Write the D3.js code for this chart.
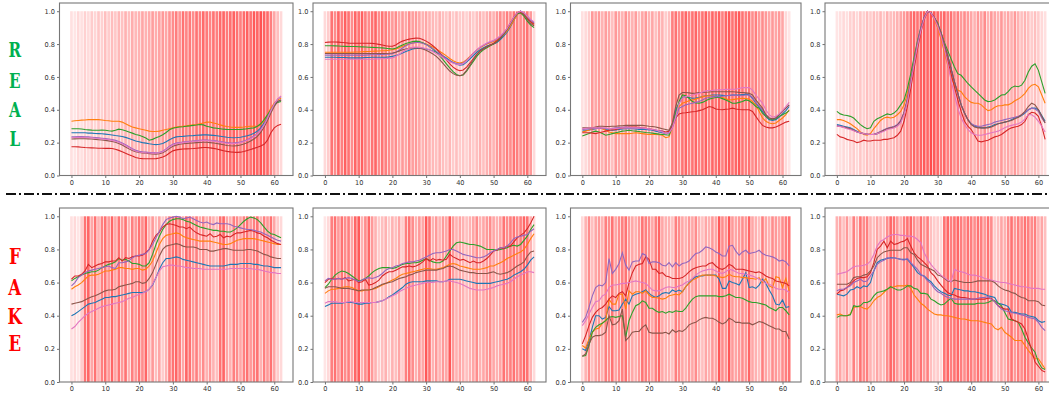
<!DOCTYPE html>
<html>
<head>
<meta charset="utf-8">
<script src="https://cdn.jsdelivr.net/npm/d3@7"></script>
<style>
  body { margin: 0; background: #fff; }
  svg { display: block; }
</style>
</head>
<body>
<svg id="chart" width="1049" height="393"></svg>
<script>
// series order in every panel: blue, orange, green, red, purple, brown, pink
const seriesColors = ["#1f77b4", "#ff7f0e", "#2ca02c", "#d62728", "#9467bd", "#8c564b", "#e377c2"];
const xTicks = [0, 10, 20, 30, 40, 50, 60];
const yTicks = [0, 0.2, 0.4, 0.6, 0.8, 1.0];
const rowLabels = ["REAL", "FAKE"];

// attention weight per time step (bar opacity)
const real1Weights = [.12,.1,.15,.12,.18,.14,.2,.16,.22,.18, .25,.2,.26,.22,.28,.24,.3,.25,.32,.28, .3,.35,.3,.33,.38,.32,.36,.4,.35,.42, .45,.5,.42,.55,.48,.52,.45,.55,.5,.58, .52,.48,.55,.5,.58,.6,.52,.56,.62,.55, .5,.58,.62,.55,.65,.6,.68,.62,.58,.5, .35,.25,.15];
const real2Weights = [.15,.2,.55,.45,.6,.5,.62,.55,.45,.6, .55,.62,.5,.45,.55,.6,.45,.55,.5,.45, .4,.45,.35,.4,.35,.45,.38,.4,.35,.3, .35,.3,.28,.25,.3,.25,.22,.28,.2,.25, .2,.22,.18,.25,.2,.25,.3,.25,.3,.35, .3,.4,.45,.4,.5,.45,.55,.5,.45,.5, .55,.4,.15];
const real3Weights = [.12,.15,.2,.4,.35,.4,.3,.38,.35,.25, .4,.35,.3,.42,.35,.3,.38,.25,.35,.4, .3,.35,.25,.35,.3,.2,.25,.5,.55,.45, .55,.6,.5,.55,.6,.5,.55,.62,.5,.6, .55,.62,.5,.6,.65,.55,.6,.65,.55,.5, .55,.45,.5,.4,.45,.4,.35,.4,.35,.4, .35,.15,.1];
const real4Weights = [.1,.12,.15,.12,.18,.2,.15,.22,.18,.25, .2,.25,.22,.28,.2,.3,.25,.28,.3,.35, .4,.45,.55,.6,.55,.62,.65,.6,.7,.65, .6,.55,.6,.5,.55,.45,.5,.4,.45,.4, .35,.3,.4,.35,.45,.3,.4,.35,.3,.4, .3,.35,.3,.4,.3,.25,.3,.25,.2,.25, .2,.15,.12];
const fake1Weights = [.12,.15,.1,.2,.55,.6,.35,.55,.3,.5, .55,.4,.6,.35,.55,.4,.55,.3,.5,.4, .55,.45,.6,.3,.4,.25,.35,.2,.3,.5, .55,.6,.5,.35,.6,.55,.4,.5,.35,.45, .3,.4,.3,.25,.55,.6,.35,.3,.5,.45, .35,.5,.55,.4,.5,.55,.3,.5,.4,.55, .35,.2,.15];
const fake2Weights = [.1,.15,.5,.55,.4,.55,.45,.5,.35,.6, .65,.3,.45,.6,.4,.3,.2,.25,.3,.2, .3,.25,.35,.2,.5,.55,.45,.3,.4,.35, .65,.55,.3,.4,.3,.4,.35,.65,.4,.3, .35,.3,.25,.3,.35,.45,.3,.35,.4,.45, .35,.3,.35,.55,.45,.5,.55,.45,.5,.6, .55,.3,.15];
const fake3Weights = [.15,.3,.45,.25,.35,.4,.3,.5,.45,.55, .35,.45,.5,.55,.4,.35,.3,.4,.55,.5, .45,.35,.5,.6,.35,.3,.3,.25,.5,.45, .35,.3,.4,.35,.45,.3,.25,.35,.3,.4, .35,.65,.45,.4,.65,.4,.35,.4,.45,.4, .6,.35,.3,.25,.5,.35,.3,.45,.4,.35, .45,.5,.55];
const fake4Weights = [.3,.35,.25,.4,.2,.5,.3,.55,.45,.5, .3,.25,.35,.3,.25,.45,.6,.55,.4,.3, .5,.55,.6,.45,.35,.55,.4,.5,.25,.2, .2,.15,.55,.6,.5,.55,.6,.5,.45,.55, .5,.45,.55,.5,.4,.55,.45,.2,.25,.35, .3,.45,.55,.4,.5,.45,.55,.5,.45,.5, .3,.35,.25];

const real1Series = [
  [.26,.26,.26,.26,.26,.258,.258,.256,.255,.254, .252,.25,.247,.243,.24,.237,.232,.225,.218,.21, .205,.2,.197,.193,.19,.188,.19,.195,.205,.218, .228,.235,.237,.238,.24,.242,.243,.245,.246,.247, .247,.246,.244,.242,.239,.236,.233,.231,.23,.231, .233,.237,.242,.248,.257,.27,.29,.32,.36,.4, .43,.45,.46],
  [.33,.333,.335,.337,.338,.34,.34,.34,.34,.338, .335,.333,.33,.33,.33,.325,.315,.305,.295,.29, .285,.28,.275,.27,.268,.268,.27,.275,.28,.285, .29,.295,.298,.3,.302,.305,.308,.31,.315,.32, .325,.325,.32,.315,.308,.302,.298,.295,.293,.293, .293,.295,.298,.3,.3,.3,.31,.33,.37,.41, .44,.46,.47],
  [.285,.285,.285,.283,.28,.278,.276,.275,.275,.276, .275,.272,.27,.275,.282,.278,.272,.265,.258,.25, .245,.238,.228,.215,.22,.23,.238,.248,.262,.278, .288,.292,.295,.297,.3,.302,.305,.307,.31,.308, .3,.295,.29,.288,.285,.282,.28,.28,.28,.28, .28,.282,.285,.288,.29,.3,.315,.34,.37,.4, .43,.445,.45],
  [.175,.175,.174,.172,.17,.169,.168,.167,.166,.166, .165,.165,.164,.16,.153,.145,.136,.127,.118,.11, .105,.103,.102,.102,.102,.103,.106,.112,.122,.137, .15,.156,.159,.161,.162,.163,.164,.166,.168,.17, .17,.168,.165,.161,.156,.151,.147,.144,.142,.141, .142,.146,.152,.158,.165,.172,.18,.19,.215,.26, .29,.305,.312],
  [.235,.236,.237,.237,.236,.235,.233,.231,.229,.227, .225,.222,.219,.214,.207,.198,.187,.175,.163,.153, .147,.144,.142,.14,.139,.138,.14,.148,.162,.178, .19,.197,.201,.204,.206,.208,.21,.212,.214,.216, .216,.215,.213,.21,.207,.203,.2,.198,.198,.2, .204,.21,.218,.228,.24,.255,.28,.31,.35,.395, .435,.465,.48],
  [.222,.223,.224,.224,.224,.223,.222,.22,.218,.216, .214,.211,.207,.202,.195,.185,.174,.162,.152,.145, .14,.137,.135,.133,.131,.13,.132,.138,.15,.165, .178,.185,.19,.193,.195,.197,.198,.2,.201,.202, .202,.2,.198,.195,.191,.187,.183,.181,.18,.182, .186,.192,.2,.21,.222,.238,.262,.295,.335,.38, .42,.45,.46],
  [.23,.231,.232,.232,.231,.23,.229,.227,.225,.223, .221,.218,.214,.209,.202,.193,.182,.17,.158,.149, .143,.14,.138,.137,.136,.136,.138,.145,.158,.174, .186,.193,.197,.2,.203,.205,.207,.209,.211,.212, .212,.211,.209,.206,.203,.199,.196,.194,.194,.196, .2,.206,.214,.224,.236,.252,.276,.308,.35,.395, .435,.465,.485]
];

const real2Series = [
  [.72,.72,.72,.72,.718,.718,.718,.716,.716,.716, .716,.716,.718,.718,.72,.72,.72,.72,.72,.722, .725,.73,.737,.745,.755,.763,.77,.774,.775,.774, .77,.765,.758,.75,.74,.728,.715,.7,.688,.678, .672,.675,.69,.71,.73,.75,.765,.778,.788,.795, .8,.81,.828,.848,.872,.905,.945,.98,1.0,.985, .96,.94,.925],
  [.75,.75,.75,.75,.75,.75,.75,.75,.75,.752, .752,.753,.754,.755,.756,.757,.758,.759,.76,.762, .765,.77,.778,.787,.795,.802,.807,.81,.81,.807, .8,.792,.782,.77,.757,.743,.728,.712,.698,.689, .685,.69,.705,.725,.745,.762,.778,.79,.8,.808, .815,.825,.84,.858,.88,.91,.945,.98,.998,.985, .96,.94,.92],
  [.79,.79,.79,.789,.788,.787,.786,.785,.785,.785, .784,.783,.782,.781,.78,.779,.778,.777,.775,.772, .77,.775,.785,.795,.803,.81,.815,.818,.815,.808, .798,.785,.77,.752,.73,.705,.68,.655,.632,.615, .607,.612,.635,.665,.695,.725,.748,.765,.778,.79, .8,.815,.835,.86,.89,.925,.96,.985,.99,.97, .94,.915,.9],
  [.81,.812,.813,.813,.812,.81,.808,.806,.805,.805, .805,.805,.805,.805,.804,.802,.798,.794,.79,.787, .787,.795,.808,.818,.825,.83,.834,.836,.835,.828, .818,.805,.79,.772,.75,.727,.703,.68,.66,.645, .638,.642,.66,.685,.712,.738,.758,.772,.783,.795, .805,.82,.84,.865,.895,.93,.965,.99,.995,.98, .955,.935,.92],
  [.733,.733,.733,.733,.733,.733,.733,.733,.733,.733, .733,.733,.733,.734,.735,.735,.736,.737,.738,.739, .742,.75,.762,.776,.79,.8,.806,.81,.81,.805, .797,.785,.772,.757,.741,.725,.71,.697,.687,.682, .68,.685,.7,.72,.742,.765,.78,.792,.803,.812, .82,.832,.848,.868,.893,.925,.96,.99,1.0,.99, .97,.945,.93],
  [.743,.743,.743,.743,.743,.743,.743,.743,.743,.743, .743,.743,.743,.743,.743,.743,.743,.743,.743,.744, .746,.75,.757,.765,.77,.774,.776,.777,.775,.77, .762,.752,.74,.725,.705,.682,.658,.636,.62,.61, .607,.615,.64,.672,.705,.735,.758,.772,.784,.793, .802,.815,.835,.86,.89,.925,.96,.99,1.0,.98, .95,.925,.91],
  [.708,.708,.708,.708,.708,.708,.708,.708,.708,.708, .708,.708,.708,.708,.708,.709,.71,.711,.712,.713, .716,.725,.738,.752,.765,.775,.78,.782,.78,.777, .772,.765,.755,.743,.73,.717,.705,.693,.683,.677, .675,.68,.698,.72,.745,.765,.782,.795,.806,.815, .822,.834,.85,.87,.895,.93,.965,.99,1.0,.99, .97,.95,.935]
];

const real3Series = [
  [.27,.273,.277,.28,.285,.29,.286,.28,.277,.275, .277,.28,.283,.285,.285,.285,.283,.28,.28,.28, .278,.275,.27,.265,.26,.255,.26,.31,.4,.44, .475,.48,.475,.47,.472,.475,.48,.485,.487,.49, .49,.49,.488,.485,.487,.49,.49,.49,.492,.495, .49,.47,.44,.415,.39,.36,.34,.335,.34,.355, .375,.395,.42],
  [.265,.27,.275,.283,.29,.29,.285,.275,.265,.26, .255,.255,.255,.255,.255,.257,.26,.258,.255,.252, .25,.25,.25,.248,.245,.23,.235,.3,.37,.42, .44,.448,.455,.46,.465,.472,.48,.483,.485,.483, .48,.478,.475,.468,.46,.462,.465,.468,.47,.468, .465,.45,.43,.39,.35,.33,.32,.315,.32,.335, .35,.37,.4],
  [.24,.248,.255,.265,.27,.265,.255,.245,.25,.255, .26,.265,.27,.272,.275,.272,.27,.268,.265,.262, .26,.258,.255,.252,.25,.248,.245,.3,.38,.45, .49,.485,.47,.45,.442,.44,.445,.455,.465,.47, .475,.475,.468,.46,.45,.44,.44,.445,.45,.46, .455,.44,.42,.41,.38,.36,.345,.34,.345,.36, .37,.38,.395],
  [.26,.26,.26,.258,.255,.26,.265,.27,.275,.278, .28,.285,.29,.293,.295,.295,.295,.293,.29,.288, .285,.28,.275,.272,.27,.265,.27,.3,.35,.375, .38,.382,.385,.388,.39,.395,.4,.41,.42,.415, .405,.402,.4,.403,.405,.41,.405,.402,.4,.4, .4,.39,.36,.33,.305,.295,.29,.29,.295,.305, .315,.325,.33],
  [.28,.282,.284,.285,.287,.29,.288,.286,.285,.287, .29,.292,.294,.295,.293,.29,.29,.288,.287,.285, .283,.28,.277,.274,.27,.255,.26,.29,.35,.41, .42,.43,.435,.44,.445,.45,.46,.47,.475,.48, .48,.48,.482,.485,.488,.49,.488,.485,.487,.49, .49,.475,.445,.42,.4,.37,.35,.345,.35,.37, .39,.41,.43],
  [.29,.29,.29,.29,.295,.3,.3,.298,.298,.3, .3,.302,.303,.305,.305,.305,.305,.305,.305,.303, .3,.298,.295,.29,.285,.28,.275,.32,.42,.49, .505,.505,.503,.5,.502,.505,.505,.507,.508,.51, .51,.51,.51,.51,.51,.51,.508,.506,.505,.503, .5,.49,.46,.435,.41,.37,.35,.345,.35,.37, .39,.41,.43],
  [.285,.287,.289,.29,.29,.29,.29,.289,.287,.285, .287,.288,.29,.29,.29,.29,.29,.29,.29,.287, .284,.28,.277,.27,.265,.255,.26,.29,.36,.44, .47,.48,.485,.49,.495,.5,.508,.515,.517,.518, .52,.521,.522,.524,.525,.525,.525,.53,.535,.535, .535,.52,.49,.465,.44,.4,.37,.355,.36,.375, .395,.42,.445]
];

const real4Series = [
  [.31,.305,.3,.295,.29,.28,.27,.26,.255,.25, .25,.25,.255,.265,.275,.285,.29,.295,.305,.33, .38,.46,.57,.69,.8,.89,.96,1.0,.99,.96, .92,.87,.8,.73,.65,.57,.5,.43,.38,.34, .315,.3,.295,.29,.29,.295,.3,.31,.315,.32, .325,.33,.34,.35,.355,.365,.38,.4,.41,.41, .4,.365,.33],
  [.34,.34,.335,.325,.315,.3,.285,.265,.25,.245, .255,.285,.31,.335,.35,.355,.35,.355,.37,.39, .43,.5,.6,.71,.81,.89,.96,1.0,.99,.95, .9,.83,.75,.67,.6,.55,.52,.51,.48,.46, .445,.44,.44,.43,.41,.395,.4,.415,.425,.425, .43,.43,.44,.455,.465,.48,.5,.53,.55,.555, .54,.49,.44],
  [.39,.375,.368,.365,.36,.35,.33,.31,.295,.285, .29,.33,.345,.355,.365,.375,.37,.38,.4,.43, .46,.53,.62,.72,.82,.9,.96,1.0,.99,.96, .93,.87,.81,.76,.71,.66,.62,.61,.585,.56, .54,.52,.5,.48,.46,.45,.452,.46,.475,.49, .492,.51,.535,.545,.54,.55,.58,.63,.665,.68, .64,.57,.5],
  [.25,.235,.23,.22,.215,.21,.2,.205,.215,.21, .21,.215,.215,.215,.22,.22,.225,.23,.245,.27, .33,.42,.53,.65,.77,.87,.95,1.0,.99,.96, .92,.86,.78,.7,.62,.54,.46,.39,.33,.3, .28,.245,.21,.205,.21,.215,.225,.235,.24,.25, .265,.28,.29,.295,.3,.31,.33,.37,.385,.38, .36,.3,.22],
  [.305,.3,.295,.29,.285,.275,.265,.258,.254,.252, .25,.252,.258,.268,.278,.288,.293,.298,.31,.335, .385,.47,.58,.7,.81,.9,.965,1.0,.99,.96, .92,.87,.8,.73,.65,.57,.5,.43,.38,.34, .315,.305,.3,.3,.305,.31,.315,.325,.33,.335, .34,.345,.35,.355,.36,.37,.385,.4,.41,.405, .39,.35,.32],
  [.3,.298,.295,.29,.285,.275,.265,.26,.255,.252, .25,.25,.255,.265,.275,.285,.29,.295,.305,.33, .38,.46,.57,.69,.8,.89,.96,1.0,.99,.96, .92,.87,.8,.73,.65,.57,.5,.43,.38,.34, .31,.295,.29,.29,.29,.29,.295,.305,.315,.32, .325,.33,.335,.345,.355,.37,.39,.42,.44,.43, .4,.36,.32],
  [.3,.298,.293,.285,.28,.272,.265,.26,.255,.252, .25,.25,.255,.262,.27,.28,.285,.29,.3,.32, .37,.45,.56,.68,.79,.88,.955,1.0,.99,.955, .91,.85,.77,.68,.58,.49,.41,.35,.31,.28, .26,.25,.245,.245,.25,.255,.26,.265,.27,.28, .29,.3,.305,.31,.315,.325,.345,.37,.37,.355, .33,.3,.265]
];

const fake1Series = [
  [.4,.41,.425,.44,.455,.47,.475,.48,.49,.5, .51,.51,.515,.515,.52,.525,.53,.535,.54,.54, .54,.54,.545,.56,.585,.63,.68,.72,.745,.745, .75,.755,.75,.74,.735,.73,.725,.72,.715,.71, .705,.7,.7,.7,.7,.7,.705,.71,.71,.71, .715,.715,.715,.715,.71,.71,.705,.7,.7,.695, .69,.69,.69],
  [.56,.575,.585,.6,.62,.64,.645,.645,.65,.66, .67,.67,.675,.68,.69,.69,.685,.685,.68,.685, .685,.675,.68,.7,.73,.78,.83,.865,.885,.89, .895,.9,.895,.88,.87,.865,.86,.855,.85,.85, .85,.85,.845,.84,.835,.83,.83,.835,.845,.855, .86,.865,.865,.865,.865,.86,.855,.85,.845,.84, .835,.83,.83],
  [.61,.625,.635,.645,.655,.66,.665,.665,.675,.69, .7,.71,.715,.725,.745,.735,.74,.73,.715,.715, .71,.7,.7,.72,.77,.83,.88,.92,.95,.97, .98,.985,.985,.98,.97,.965,.955,.945,.935,.93, .925,.92,.915,.915,.91,.91,.905,.905,.915,.93, .95,.97,.985,.995,.99,.98,.96,.935,.91,.895, .89,.88,.87],
  [.62,.64,.64,.65,.67,.71,.69,.7,.71,.715, .725,.725,.73,.73,.75,.73,.75,.745,.755,.76, .76,.765,.78,.8,.85,.885,.905,.935,.95,.955, .95,.945,.935,.935,.925,.935,.915,.9,.89,.885, .88,.895,.875,.88,.89,.87,.88,.875,.89,.9, .9,.905,.91,.915,.91,.9,.895,.88,.87,.855, .845,.835,.83],
  [.58,.6,.63,.645,.66,.67,.675,.68,.685,.69, .695,.7,.69,.685,.72,.72,.725,.73,.75,.76, .765,.77,.775,.8,.83,.87,.91,.95,.98,.99, .995,1.0,.995,.985,.99,.995,.985,.975,.965,.96, .965,.955,.95,.96,.955,.955,.955,.95,.94,.935, .93,.925,.92,.92,.915,.91,.905,.895,.885,.875, .865,.855,.85],
  [.47,.475,.48,.485,.495,.505,.515,.52,.53,.54, .55,.555,.555,.56,.575,.58,.585,.59,.595,.605, .605,.595,.6,.625,.66,.71,.76,.8,.82,.825, .83,.835,.83,.82,.815,.815,.815,.81,.8,.8, .8,.79,.79,.795,.8,.805,.805,.8,.795,.795, .795,.795,.8,.8,.795,.79,.78,.77,.765,.755, .75,.745,.745],
  [.32,.335,.36,.38,.4,.415,.425,.435,.445,.455, .46,.465,.47,.475,.48,.485,.495,.505,.51,.52, .53,.535,.545,.56,.59,.63,.67,.695,.7,.705, .705,.7,.7,.695,.69,.69,.685,.685,.685,.68, .68,.68,.68,.68,.68,.68,.68,.685,.685,.685, .685,.685,.685,.685,.68,.68,.675,.67,.665,.66, .66,.655,.655]
];

const fake2Series = [
  [.455,.465,.475,.475,.475,.475,.48,.48,.48,.475, .47,.47,.475,.475,.48,.48,.485,.49,.5,.515, .525,.54,.555,.57,.59,.6,.605,.605,.605,.605, .61,.61,.61,.61,.605,.605,.61,.62,.62,.62, .62,.615,.61,.605,.6,.595,.595,.595,.595,.595, .6,.605,.61,.615,.62,.63,.645,.655,.665,.68, .705,.735,.755],
  [.535,.55,.56,.56,.565,.57,.575,.575,.57,.56, .55,.55,.555,.555,.56,.565,.575,.585,.595,.605, .615,.625,.64,.65,.655,.66,.665,.67,.675,.68, .685,.685,.68,.68,.685,.69,.7,.71,.715,.71, .7,.695,.69,.685,.68,.68,.68,.685,.69,.7, .7,.71,.72,.73,.745,.755,.765,.775,.785,.8, .83,.865,.895],
  [.57,.59,.62,.645,.66,.67,.665,.655,.64,.625, .61,.615,.625,.64,.66,.675,.685,.69,.69,.69, .685,.69,.7,.71,.715,.715,.72,.72,.725,.735, .745,.735,.725,.72,.72,.73,.76,.79,.82,.84, .845,.84,.835,.83,.83,.825,.82,.81,.8,.8, .8,.795,.8,.805,.81,.82,.825,.82,.83,.855, .88,.92,.95],
  [.6,.62,.625,.62,.625,.62,.63,.61,.615,.62, .6,.605,.62,.585,.59,.6,.615,.64,.655,.665, .665,.675,.685,.695,.695,.7,.695,.7,.71,.725, .745,.73,.745,.735,.74,.735,.74,.77,.755,.745, .735,.74,.73,.72,.73,.72,.72,.73,.745,.765, .79,.795,.81,.805,.82,.82,.845,.87,.885,.9, .925,.96,1.0],
  [.61,.625,.62,.62,.625,.62,.625,.63,.625,.615, .605,.615,.625,.63,.625,.63,.64,.655,.675,.685, .69,.7,.705,.715,.72,.725,.725,.73,.735,.745, .755,.765,.775,.78,.78,.785,.79,.8,.8,.79, .78,.77,.765,.76,.755,.75,.75,.755,.765,.78, .79,.8,.81,.81,.82,.84,.865,.875,.88,.885, .89,.91,.925],
  [.565,.575,.575,.575,.57,.565,.565,.565,.56,.555, .55,.555,.555,.555,.56,.57,.58,.59,.595,.6, .605,.615,.625,.63,.635,.645,.65,.66,.665,.67, .675,.675,.675,.675,.68,.685,.695,.7,.695,.685, .675,.67,.665,.66,.66,.655,.655,.655,.655,.66, .665,.655,.65,.655,.66,.67,.685,.7,.71,.725, .76,.785,.79],
  [.475,.485,.485,.485,.48,.48,.48,.485,.485,.48, .48,.48,.48,.48,.48,.48,.485,.49,.5,.51, .52,.53,.545,.555,.565,.575,.58,.585,.59,.595, .6,.6,.6,.605,.605,.605,.61,.61,.605,.6, .595,.585,.575,.565,.56,.555,.555,.555,.56,.565, .57,.58,.585,.59,.595,.605,.62,.635,.645,.655, .665,.665,.66]
];

const fake3Series = [
  [.2,.19,.25,.33,.4,.4,.38,.39,.455,.43, .43,.435,.47,.5,.47,.52,.53,.535,.545,.555, .535,.52,.51,.52,.535,.54,.535,.555,.545,.555, .545,.575,.6,.62,.635,.64,.64,.645,.645,.645, .645,.62,.565,.565,.61,.6,.595,.585,.62,.66, .57,.575,.565,.585,.62,.595,.555,.52,.47,.465, .495,.45,.455],
  [.22,.205,.26,.3,.32,.325,.355,.37,.5,.47, .47,.53,.53,.44,.55,.53,.545,.545,.535,.55, .525,.51,.51,.505,.5,.505,.52,.525,.53,.525, .545,.575,.595,.615,.625,.635,.645,.645,.645,.645, .64,.635,.63,.635,.65,.64,.635,.635,.63,.63, .625,.625,.62,.63,.6,.625,.58,.57,.635,.63, .57,.625,.55],
  [.155,.16,.22,.3,.33,.345,.355,.37,.39,.395, .39,.395,.4,.27,.37,.42,.46,.47,.49,.48, .445,.445,.43,.42,.425,.415,.425,.42,.43,.425, .425,.445,.475,.5,.515,.52,.52,.52,.52,.52, .52,.515,.515,.52,.53,.52,.51,.51,.505,.495, .485,.48,.48,.475,.47,.465,.45,.44,.43,.45, .45,.43,.405],
  [.23,.28,.34,.39,.42,.44,.45,.47,.5,.52, .51,.535,.545,.52,.6,.66,.7,.71,.715,.755, .74,.68,.68,.655,.66,.64,.635,.625,.625,.625, .63,.645,.665,.68,.69,.695,.7,.7,.715,.72, .7,.685,.68,.69,.71,.7,.68,.68,.68,.675, .67,.665,.66,.665,.655,.64,.63,.625,.61,.605, .6,.595,.58],
  [.36,.39,.45,.52,.57,.585,.58,.6,.745,.655, .68,.715,.78,.705,.675,.725,.73,.73,.775,.765, .715,.725,.725,.72,.705,.7,.72,.695,.72,.7, .715,.72,.73,.755,.775,.78,.795,.815,.81,.8, .785,.775,.76,.76,.82,.825,.79,.765,.785,.795, .775,.78,.785,.795,.775,.765,.76,.755,.745,.73, .735,.725,.7],
  [.155,.17,.23,.27,.28,.28,.285,.3,.4,.345, .35,.37,.44,.25,.27,.3,.305,.305,.33,.345, .3,.295,.295,.295,.295,.3,.29,.315,.3,.31, .305,.32,.345,.355,.36,.375,.385,.39,.385,.385, .375,.36,.35,.36,.385,.375,.36,.36,.355,.355, .355,.345,.355,.365,.36,.35,.34,.33,.32,.32, .305,.305,.26],
  [.34,.37,.41,.45,.485,.49,.52,.53,.57,.585, .585,.59,.595,.595,.6,.605,.61,.605,.6,.595, .575,.555,.55,.55,.56,.57,.575,.57,.57,.58, .585,.6,.61,.625,.645,.66,.67,.675,.68,.68, .67,.66,.655,.665,.68,.675,.665,.655,.655,.65, .645,.64,.63,.62,.61,.595,.59,.58,.565,.56, .56,.555,.54]
];

const fake4Series = [
  [.53,.525,.52,.53,.555,.56,.575,.565,.58,.575, .6,.67,.72,.735,.74,.745,.75,.75,.745,.74, .74,.74,.715,.69,.66,.645,.64,.62,.605,.58, .56,.545,.535,.525,.52,.565,.56,.555,.55,.55, .545,.545,.54,.535,.53,.52,.515,.51,.475,.47, .465,.455,.42,.42,.415,.41,.41,.4,.395,.39, .37,.36,.365],
  [.405,.41,.4,.4,.41,.45,.455,.455,.445,.44, .46,.49,.51,.52,.54,.56,.57,.575,.58,.58, .58,.585,.565,.525,.5,.475,.46,.44,.425,.41, .405,.405,.4,.4,.395,.39,.385,.38,.38,.375, .37,.37,.37,.365,.36,.355,.35,.325,.315,.33, .3,.285,.27,.25,.25,.25,.22,.19,.165,.14, .14,.11,.08],
  [.39,.4,.4,.4,.405,.46,.455,.46,.48,.48, .49,.52,.54,.545,.55,.56,.575,.565,.555,.555, .565,.58,.58,.565,.56,.535,.535,.53,.5,.49, .475,.465,.47,.49,.505,.475,.47,.47,.47,.47, .47,.47,.475,.475,.475,.48,.49,.49,.475,.46, .42,.38,.375,.37,.36,.32,.27,.235,.205,.18, .12,.085,.075],
  [.53,.55,.555,.57,.59,.61,.625,.63,.63,.635, .66,.72,.8,.82,.85,.81,.85,.83,.835,.845, .85,.865,.82,.78,.755,.74,.72,.7,.66,.64, .61,.585,.56,.54,.53,.525,.515,.51,.51,.505, .5,.5,.5,.5,.5,.505,.505,.485,.46,.45, .44,.44,.38,.37,.36,.35,.32,.26,.19,.12, .095,.07,.06],
  [.55,.56,.56,.57,.58,.6,.61,.62,.605,.61, .64,.67,.71,.725,.735,.75,.745,.75,.745,.74, .735,.745,.72,.7,.68,.65,.635,.61,.595,.565, .545,.535,.52,.51,.505,.5,.5,.5,.5,.5, .5,.5,.505,.51,.51,.515,.5,.485,.46,.44, .43,.425,.42,.415,.41,.405,.4,.39,.385,.38, .36,.33,.31],
  [.59,.59,.59,.59,.6,.63,.635,.635,.645,.65, .67,.7,.75,.77,.785,.79,.795,.795,.795,.795, .81,.81,.78,.77,.735,.71,.7,.69,.68,.67, .645,.64,.625,.61,.605,.615,.61,.605,.6,.6, .6,.605,.61,.61,.61,.61,.61,.6,.58,.565, .555,.55,.54,.535,.52,.51,.505,.49,.49,.49, .485,.465,.46],
  [.65,.655,.66,.665,.68,.695,.7,.7,.705,.71, .73,.77,.82,.85,.86,.875,.885,.89,.89,.885, .885,.88,.88,.875,.86,.84,.78,.74,.71,.685, .665,.645,.63,.615,.605,.68,.67,.665,.66,.65, .645,.645,.64,.635,.625,.62,.615,.61,.605,.6, .6,.595,.59,.585,.58,.575,.575,.57,.565,.565, .565,.56,.56]
];

const panels = [
  { row: 0, col: 0, weights: real1Weights, series: real1Series },
  { row: 0, col: 1, weights: real2Weights, series: real2Series },
  { row: 0, col: 2, weights: real3Weights, series: real3Series },
  { row: 0, col: 3, weights: real4Weights, series: real4Series },
  { row: 1, col: 0, weights: fake1Weights, series: fake1Series },
  { row: 1, col: 1, weights: fake2Weights, series: fake2Series },
  { row: 1, col: 2, weights: fake3Weights, series: fake3Series },
  { row: 1, col: 3, weights: fake4Weights, series: fake4Series }
];

// layout (pixels)
const colBox = [[59.5, 293], [313, 546], [570.5, 801], [825, 1057]];
const rowBox = [[3, 175.5], [208, 382]];

const svg = d3.select("#chart");

panels.forEach(p => {
  const [x0, x1] = colBox[p.col];
  const [y0, y1] = rowBox[p.row];
  const x = d3.scaleLinear().domain([-3.54, 65.54]).range([x0, x1]);
  const y = d3.scaleLinear().domain([0, 1.05]).range([y1, y0]);
  const g = svg.append("g");

  g.selectAll("rect.bar")
    .data(p.weights)
    .join("rect")
    .attr("class", "bar")
    .attr("x", (d, i) => x(i - 0.4))
    .attr("width", x(0.8) - x(0))
    .attr("y", y(1))
    .attr("height", y(0) - y(1))
    .attr("fill", "#ff0000")
    .attr("fill-opacity", d => d);

  const line = d3.line()
    .x((d, i) => x(i))
    .y(d => y(d));

  g.selectAll("path.series")
    .data(p.series)
    .join("path")
    .attr("class", "series")
    .attr("fill", "none")
    .attr("stroke", (d, i) => seriesColors[i])
    .attr("stroke-width", 1.1)
    .attr("d", line);

  const xAxis = g.append("g")
    .attr("transform", "translate(0," + y1 + ")")
    .call(d3.axisBottom(x).tickValues(xTicks).tickSize(2.5).tickPadding(2));
  const yAxis = g.append("g")
    .attr("transform", "translate(" + x0 + ",0)")
    .call(d3.axisLeft(y).tickValues(yTicks).tickSize(2.5).tickPadding(2).tickFormat(d3.format(".1f")));

  [xAxis, yAxis].forEach(a => {
    a.select(".domain").remove();
    a.selectAll(".tick line").attr("stroke", "#333").attr("stroke-width", 0.7);
    a.selectAll(".tick text")
      .attr("fill", "#333")
      .style("font-family", "DejaVu Sans")
      .style("font-size", "6.6px");
  });

  g.append("rect")
    .attr("x", x0).attr("y", y0)
    .attr("width", x1 - x0).attr("height", y1 - y0)
    .attr("fill", "none")
    .attr("stroke", "#777")
    .attr("stroke-width", 1.1);
});

// separator between rows
svg.append("line")
  .attr("x1", 6).attr("x2", 1049)
  .attr("y1", 194).attr("y2", 194)
  .attr("stroke", "#111")
  .attr("stroke-width", 2)
  .attr("stroke-dasharray", "10,3,2,3");

// vertical row labels (slab serif, slightly condensed)
const labelCenters = [[50, 80.5, 110, 138.5], [255.3, 286.5, 315.7, 343]];
const labelColors = ["#00b050", "#ff0000"];
const labelSizes = [20.5, 22.5];
rowLabels.forEach((word, r) => {
  svg.selectAll("text.lbl" + r)
    .data(word.split(""))
    .join("text")
    .attr("class", "lbl" + r)
    .attr("transform", (d, i) =>
      "translate(14.8," + (labelCenters[r][i] + labelSizes[r] * 0.365) + ") scale(0.82,1)")
    .attr("text-anchor", "middle")
    .attr("fill", labelColors[r])
    .style("font-family", "'DejaVu Serif Condensed', 'DejaVu Serif', serif")
    .style("font-weight", "bold")
    .style("font-size", labelSizes[r] + "px")
    .text(d => d);
});
</script>
</body>
</html>
